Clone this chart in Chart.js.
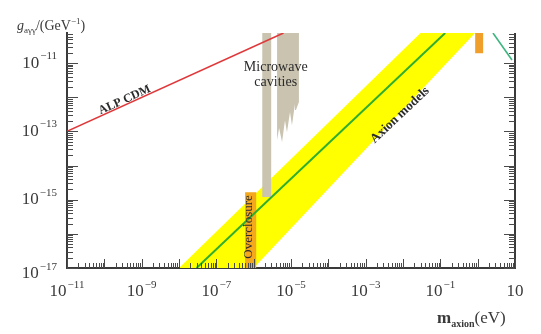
<!DOCTYPE html>
<html>
<head>
<meta charset="utf-8">
<script src="https://cdn.jsdelivr.net/npm/chart.js@4.4.1/dist/chart.umd.min.js"></script>
<style>
  html, body { margin: 0; padding: 0; background: #fff; }
</style>
</head>
<body>
<canvas id="chart" width="541" height="334"></canvas>
<script>
// axis ranges: axion mass (eV) and photon coupling (GeV^-1)
const massRange = [1e-11, 10];
const couplingRange = [1e-17, 7.6e-11];

// tick labels, every second decade
const xLabelValues = [1e-11, 1e-9, 1e-7, 1e-5, 1e-3, 1e-1, 10];
const xLabelTexts = ['10^−11', '10^−9', '10^−7', '10^−5', '10^−3', '10^−1', '10'];
const yLabelValues = [1e-11, 1e-13, 1e-15, 1e-17];
const yLabelTexts = ['10^−11', '10^−13', '10^−15', '10^−17'];

// axion model band (KSVZ/DFSZ region)
const bandMass = [1.0e-8, 2.95e-2, 0.85, 1.0e-6];
const bandCoupling = [1e-17, 7.6e-11, 7.6e-11, 1e-17];

// central axion model line
const modelMass = [2.95e-8, 0.135];
const modelCoupling = [1e-17, 7.6e-11];

// ALP cold dark matter line
const alpMass = [1e-11, 6.3e-6];
const alpCoupling = [1e-13, 7.6e-11];

// microwave cavity exclusions
const cavityAMass = [1.7e-6, 2.95e-6, 2.95e-6, 1.7e-6];
const cavityACoupling = [1e-10, 1e-10, 1.2e-15, 1.2e-15];
const cavityBMass = [4.24e-6, 1.63e-5, 1.63e-5, 1.36e-5, 1.28e-5, 1.06e-5, 9.4e-6, 7.8e-6, 6.9e-6, 5.75e-6, 4.8e-6, 4.24e-6];
const cavityBCoupling = [1e-10, 1e-10, 7.2e-13, 4.2e-13, 6.3e-13, 1.5e-13, 3.7e-13, 9.5e-14, 2.1e-13, 4.9e-14, 1.26e-13, 5.6e-14];

// overclosure bound
const closureMass = [5.9e-7, 1.17e-6, 1.17e-6, 5.9e-7];
const closureCoupling = [1.66e-15, 1.66e-15, 1e-17, 1e-17];

// small exclusion in the upper right
const hbMass = [0.857, 1.40, 1.40, 0.857];
const hbCoupling = [7.6e-11, 7.6e-11, 1.95e-11, 1.95e-11];

// telescope limit
const scopeMass = [2.57, 8.3];
const scopeCoupling = [7.6e-11, 1.23e-11];

const serif = '"Liberation Serif", "DejaVu Serif", serif';

const pts = (xs, ys) => xs.map((x, i) => ({ x, y: ys[i] }));

function line(xs, ys, color, width, order) {
  return { data: pts(xs, ys), borderColor: color, borderWidth: width, pointRadius: 0, fill: false, tension: 0, order };
}

function area(xs, ys, color, order) {
  return { data: pts(xs, ys), borderColor: 'rgba(0,0,0,0)', borderWidth: 0, backgroundColor: color, pointRadius: 0, fill: 'shape', tension: 0, order };
}

// decade ticks plus 2..9 minor ticks
function logTicks(min, max) {
  const ticks = [];
  for (let e = Math.floor(Math.log10(min)); e <= Math.ceil(Math.log10(max)); e++) {
    for (let k = 1; k <= 9; k++) {
      const v = k * Math.pow(10, e);
      if (v >= min * 0.999 && v <= max * 1.001) ticks.push({ value: v, major: k === 1 });
    }
  }
  return ticks;
}

// "10^-11" -> "10" with a raised exponent
function powerText(ctx, text, x, y, align, size) {
  const [base, exp] = text.split('^');
  const small = Math.round(size * 0.62);
  ctx.font = `${size}px ${serif}`;
  const bw = ctx.measureText(base).width;
  ctx.font = `${small}px ${serif}`;
  const ew = exp ? ctx.measureText(exp).width + 1 : 0;
  const total = bw + ew;
  const x0 = align === 'right' ? x - total : x - total / 2;
  ctx.textAlign = 'left';
  ctx.textBaseline = 'middle';
  ctx.font = `${size}px ${serif}`;
  ctx.fillText(base, x0, y);
  if (exp) {
    ctx.font = `${small}px ${serif}`;
    ctx.fillText(exp, x0 + bw + 1, y - size * 0.4);
  }
}

function rotatedText(ctx, text, x, y, angle, font, color) {
  ctx.save();
  ctx.translate(x, y);
  ctx.rotate(angle);
  ctx.font = font;
  ctx.fillStyle = color;
  ctx.textAlign = 'center';
  ctx.textBaseline = 'middle';
  ctx.fillText(text, 0, 0);
  ctx.restore();
}

const decor = {
  id: 'decor',
  afterDatasetsDraw(chart) {
    const { ctx, scales: { x, y } } = chart;
    const px = v => x.getPixelForValue(v);
    const py = v => y.getPixelForValue(v);
    const slope = (xs, ys) => Math.atan2(py(ys[1]) - py(ys[0]), px(xs[1]) - px(xs[0]));

    ctx.save();
    ctx.fillStyle = '#2b2b2b';
    ctx.font = `14px ${serif}`;
    ctx.textAlign = 'center';
    ctx.textBaseline = 'middle';
    ctx.fillText('Microwave', px(3.9e-6), py(7.6e-12));
    ctx.fillText('cavities', px(3.9e-6), py(2.75e-12));
    ctx.restore();

    rotatedText(ctx, 'ALP CDM', px(3.5e-10), py(8.3e-13), slope(alpMass, alpCoupling), `bold 12px ${serif}`, '#2b2b2b');
    rotatedText(ctx, 'Axion models', px(8.3e-3), py(3.0e-13), slope(modelMass, modelCoupling), `bold 13px ${serif}`, '#2b2b2b');
    rotatedText(ctx, 'Overclosure', px(7.1e-7), py(1.6e-16), -Math.PI / 2, `13px ${serif}`, '#2b2b2b');
  },
  afterDraw(chart) {
    const { ctx, chartArea: a, scales: { x, y } } = chart;
    ctx.save();

    // right-hand frame line
    ctx.strokeStyle = '#3a3a3a';
    ctx.lineWidth = 2;
    ctx.beginPath();
    ctx.moveTo(a.right, a.top);
    ctx.lineTo(a.right, a.bottom + 1);
    ctx.stroke();

    // inward tick marks
    ctx.strokeStyle = '#4a4a4a';
    ctx.lineWidth = 1;
    ctx.beginPath();
    x.ticks.forEach(t => {
      const p = Math.round(x.getPixelForValue(t.value)) + 0.5;
      const len = t.major ? 9 : 5;
      ctx.moveTo(p, a.bottom);
      ctx.lineTo(p, a.bottom - len);
    });
    y.ticks.forEach(t => {
      const p = Math.round(y.getPixelForValue(t.value)) + 0.5;
      const len = t.major ? 11 : 6;
      ctx.moveTo(a.left, p);
      ctx.lineTo(a.left + len, p);
      ctx.moveTo(a.right, p);
      ctx.lineTo(a.right - len, p);
    });
    ctx.stroke();

    // tick labels
    ctx.fillStyle = '#3a3a3a';
    xLabelValues.forEach((v, i) => powerText(ctx, xLabelTexts[i], x.getPixelForValue(v), a.bottom + 24, 'center', 17));
    yLabelValues.forEach((v, i) => {
      const shift = v === couplingRange[0] ? 6 : 0;
      powerText(ctx, yLabelTexts[i], a.left - 10, y.getPixelForValue(v) + shift, 'right', 17);
    });

    // y title: g_aγγ/(GeV^-1)
    ctx.textAlign = 'left';
    ctx.textBaseline = 'alphabetic';
    let cx = 17;
    const put = (t, font, dy) => { ctx.font = font; ctx.fillText(t, cx, 30 + dy); cx += ctx.measureText(t).width; };
    put('g', `italic 14px ${serif}`, 0);
    put('aγγ', `9px ${serif}`, 3);
    put('/(GeV', `14px ${serif}`, 0);
    put('−1', `9px ${serif}`, -6);
    put(')', `14px ${serif}`, 0);

    // x title: m_axion(eV)
    cx = 437;
    const putX = (t, font, dy) => { ctx.font = font; ctx.fillText(t, cx, 323 + dy); cx += ctx.measureText(t).width; };
    putX('m', `bold 17px ${serif}`, 0);
    putX('axion', `bold 10px ${serif}`, 4);
    putX('(eV)', `17px ${serif}`, 0);
    ctx.restore();
  }
};

const hiddenTicks = { display: false };
const frameGrid = { display: true, drawOnChartArea: false, drawTicks: false };
const frameBorder = { color: '#3a3a3a', width: 2 };

new Chart(document.getElementById('chart'), {
  type: 'line',
  data: {
    datasets: [
      line(modelMass, modelCoupling, '#2fae2f', 2, 0),
      line(alpMass, alpCoupling, '#e0383a', 1.6, 1),
      line(scopeMass, scopeCoupling, '#3cb67e', 1.6, 1),
      area(closureMass, closureCoupling, '#f4a81d', 2),
      area(hbMass, hbCoupling, '#f0a02a', 2),
      area(cavityAMass, cavityACoupling, '#c9c3b0', 3),
      area(cavityBMass, cavityBCoupling, '#c9c3b0', 3),
      area(bandMass, bandCoupling, '#ffff00', 4)
    ]
  },
  options: {
    responsive: false,
    animation: false,
    devicePixelRatio: 1,
    layout: { padding: { left: 67, right: 26, top: 33, bottom: 66 } },
    plugins: { legend: { display: false }, tooltip: { enabled: false } },
    scales: {
      x: {
        type: 'logarithmic',
        min: massRange[0],
        max: massRange[1],
        afterBuildTicks: s => { s.ticks = logTicks(massRange[0], massRange[1]); },
        ticks: hiddenTicks,
        grid: frameGrid,
        border: frameBorder
      },
      y: {
        type: 'logarithmic',
        min: couplingRange[0],
        max: couplingRange[1],
        afterBuildTicks: s => { s.ticks = logTicks(couplingRange[0], couplingRange[1]); },
        ticks: hiddenTicks,
        grid: frameGrid,
        border: frameBorder
      }
    }
  },
  plugins: [decor]
});
</script>
</body>
</html>
